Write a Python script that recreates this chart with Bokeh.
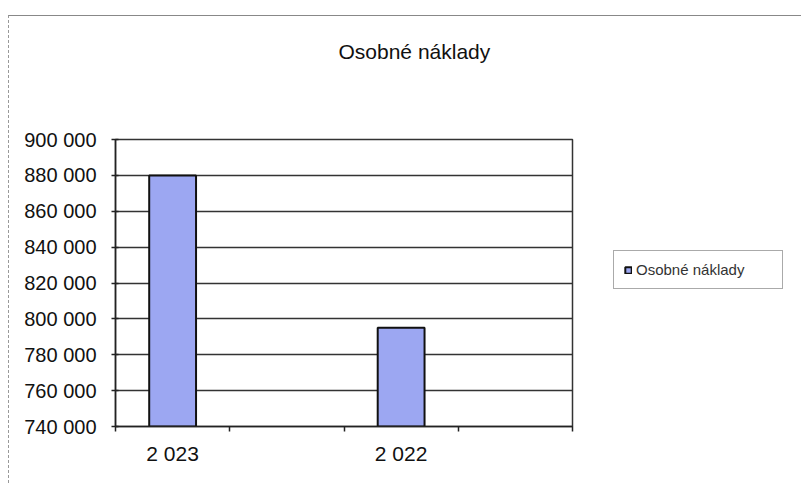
from bokeh.plotting import figure
from bokeh.models import Range1d, FixedTicker, Legend, LegendItem, ColumnDataSource, Title
from bokeh.embed import file_html
from bokeh.resources import INLINE

# ---- data ----
title_text = "Osobné náklady"
series_name = "Osobné náklady"
categories = ["2 023", "2 022"]
values = [880000, 795000]
y_tick_values = [740000, 760000, 780000, 800000, 820000, 840000, 860000, 880000, 900000]
y_tick_labels = ["740 000", "760 000", "780 000", "800 000", "820 000",
                 "840 000", "860 000", "880 000", "900 000"]

# layout: each category occupies two slots, bars in the first slot of each pair
n_slots = 2 * len(categories)
x_pos = [2 * i + 0.5 for i in range(len(categories))]

FONT = "Liberation Sans"

p = figure(frame_width=457, frame_height=287, output_backend="svg", toolbar_location=None,
           x_range=Range1d(0, n_slots), y_range=Range1d(y_tick_values[0], y_tick_values[-1]),
           min_border_left=106, min_border_right=0, min_border_top=123, min_border_bottom=57)
p.title_location = None
p.styles = {"margin-left": "8px", "margin-top": "15px",
            "border-left": "1px dashed #999999", "border-top": "1px solid #888888"}

src = ColumnDataSource(dict(x=x_pos, top=values, cat=categories))
r = p.vbar(x="x", top="top", bottom=y_tick_values[0], width=0.41, source=src,
           fill_color="#9ca7f2", line_color="#111111", line_width=2)

# spacer between title and plot area, then the title itself
spacer = Title(text=" ", text_font=FONT, text_font_size="21px", standoff=47)
p.add_layout(spacer, "above")
t = Title(text=title_text, text_font=FONT, text_font_size="21px", text_font_style="normal",
          text_color="#111111", align="left", offset=223, standoff=10)
p.add_layout(t, "above")

# x axis
xa = p.xaxis[0]
xa.ticker = FixedTicker(ticks=x_pos, minor_ticks=list(range(n_slots + 1)))
xa.major_label_overrides = {x: c for x, c in zip(x_pos, categories)}
xa.major_tick_out = 0
xa.major_tick_in = 0
xa.minor_tick_out = 5
xa.minor_tick_in = 0
xa.minor_tick_line_color = "#222222"
xa.minor_tick_line_width = 1.5
xa.axis_line_color = "#222222"
xa.axis_line_width = 1.5
xa.major_label_standoff = 10
xa.major_label_text_font = FONT
xa.major_label_text_font_size = "21px"
xa.major_label_text_color = "#111111"

# y axis
ya = p.yaxis[0]
ya.ticker = FixedTicker(ticks=y_tick_values)
ya.major_label_overrides = {v: l for v, l in zip(y_tick_values, y_tick_labels)}
ya.major_tick_out = 4
ya.major_tick_in = 3
ya.minor_tick_out = 0
ya.minor_tick_in = 0
ya.major_tick_line_color = "#222222"
ya.major_tick_line_width = 1.5
ya.axis_line_color = "#222222"
ya.axis_line_width = 1.5
ya.major_label_standoff = 15
ya.major_label_text_font = FONT
ya.major_label_text_font_size = "20px"
ya.major_label_text_color = "#111111"

p.xgrid.grid_line_color = None
p.ygrid.grid_line_color = "#333333"
p.ygrid.grid_line_width = 1.3
p.outline_line_color = "#333333"
p.outline_line_width = 1.5
p.background_fill_color = "white"
p.border_fill_color = "white"

legend = Legend(items=[LegendItem(label=series_name, renderers=[r])], location=(41, 137))
legend.padding = 10
legend.margin = 0
legend.glyph_width = 8
legend.glyph_height = 8
legend.label_standoff = 4
legend.label_width = 136
legend.label_height = 16
legend.label_text_font = FONT
legend.label_text_font_size = "15px"
legend.label_text_color = "#333333"
legend.border_line_color = "#555555"
legend.border_line_width = 1
legend.background_fill_color = "white"
p.add_layout(legend, "right")

open("out.html", "w").write(file_html(p, INLINE))
